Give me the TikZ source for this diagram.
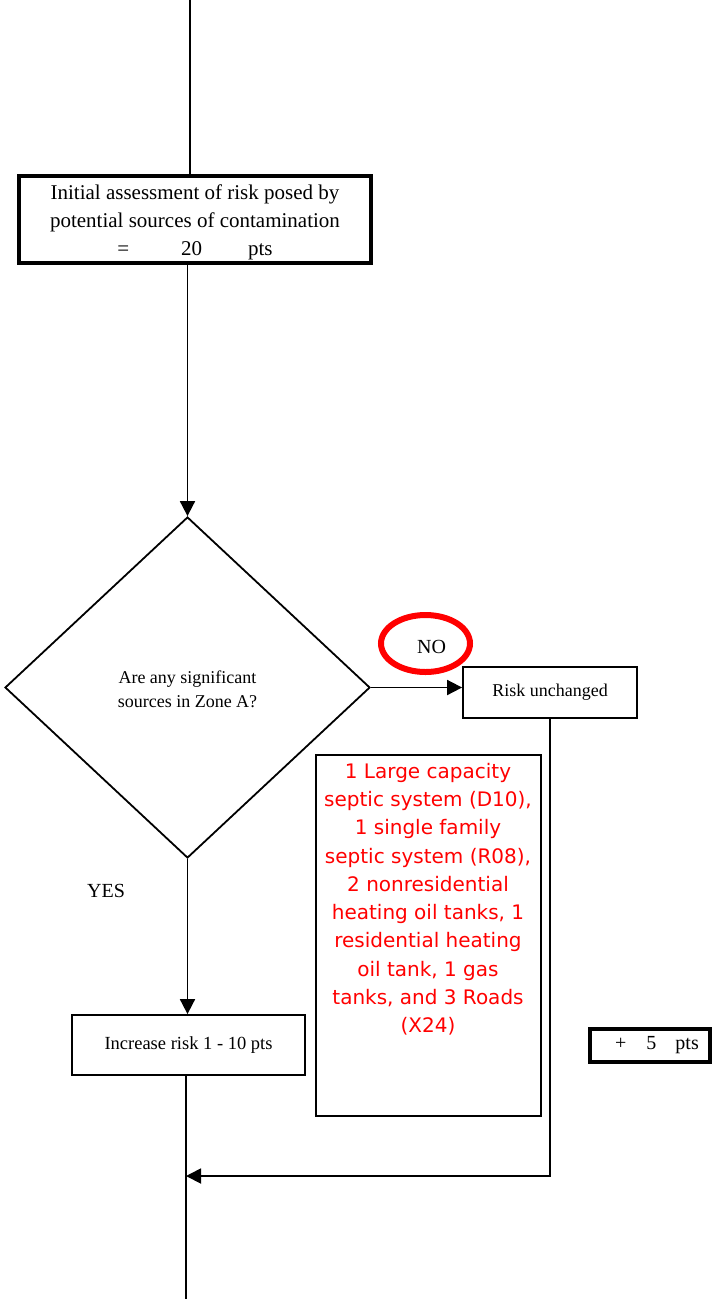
\documentclass[tikz,border=0pt]{standalone}
\usepackage{fontspec}
\setmainfont{Liberation Serif}
\newfontfamily\redfont{DejaVu Sans}
\usetikzlibrary{arrows.meta,shapes.geometric}
\begin{document}
\begin{tikzpicture}[x=1pt,y=-1pt,
  line width=1.8pt,
  arr/.style={-{Triangle[length=15pt,width=15pt]}},
  thinbox/.style={draw,line width=1.8pt,inner sep=0pt,align=center},
  thickbox/.style={draw,line width=3.4pt,inner sep=0pt,align=center},
  smalltxt/.style={font=\fontsize{18}{24}\selectfont},
]
\useasboundingbox (0,0) rectangle (719,1299);

% nodes
\node[thickbox, minimum width=352pt, minimum height=87pt,
      font=\fontsize{21}{28}\selectfont] (init) at (195,219.5)
  {\rule{0pt}{21pt}Initial assessment of risk posed by\\potential sources of contamination\\
   =\hspace{52pt}20\hspace{46pt}pts};

\node[diamond, draw, line width=1.8pt, inner sep=0pt, aspect=1,
      minimum width=365pt, minimum height=341pt, align=center, smalltxt]
  (dia) at (187.5,687.5) {\rule{0pt}{17pt}Are any significant\\sources in Zone A?};

\node[thinbox, minimum width=174pt, minimum height=51pt, smalltxt]
  (risk) at (550,692.5) {Risk unchanged};

\node[ellipse, draw=red, line width=6pt, inner sep=0pt,
      minimum width=89pt, minimum height=57pt,
      font=\fontsize{20}{24}\selectfont] (no) at (425.5,643.5)
  {\hspace*{12pt}\rule{0pt}{21pt}NO};

\node[thinbox, minimum width=225pt, minimum height=361pt] (redbox) at (428.5,935.5) {};
\node[anchor=north, inner sep=0pt, align=center, text=red,
      font=\redfont\fontsize{20}{28.3}\selectfont] (reasons) at (428,762)
  {1 Large capacity\\septic system (D10),\\1 single family\\septic system (R08),\\
   2 nonresidential\\heating oil tanks, 1\\residential heating\\oil tank, 1 gas\\
   tanks, and 3 Roads\\(X24)};

\node[thickbox, minimum width=120pt, minimum height=33pt,
      font=\fontsize{20}{24}\selectfont] (plus) at (650,1045.5)
  {\hspace*{14pt}+\hspace{20pt}5\hspace{19pt}pts};

\node[font=\fontsize{20}{24}\selectfont, inner sep=0pt] (yes) at (106,891) {YES};

\node[thinbox, minimum width=233pt, minimum height=60pt,
      font=\fontsize{18.5}{24}\selectfont] (inc) at (188.5,1045)
  {Increase risk 1 - 10 pts};

% coordinates
\coordinate (top) at (190,0);
\coordinate (bot) at (186,1299);
\coordinate (join) at (186,1176);

% connectors
\draw (top) -- (top |- init.north);
\draw[arr] (dia.north |- init.south) -- (dia.north);
\draw[arr] (dia.east) -- (dia.east -| risk.west);
\draw[arr] (dia.south) -- (dia.south |- inc.north);
\draw (bot |- inc.south) -- (bot);
\draw[arr] (risk.south) |- (join);
\end{tikzpicture}
\end{document}
